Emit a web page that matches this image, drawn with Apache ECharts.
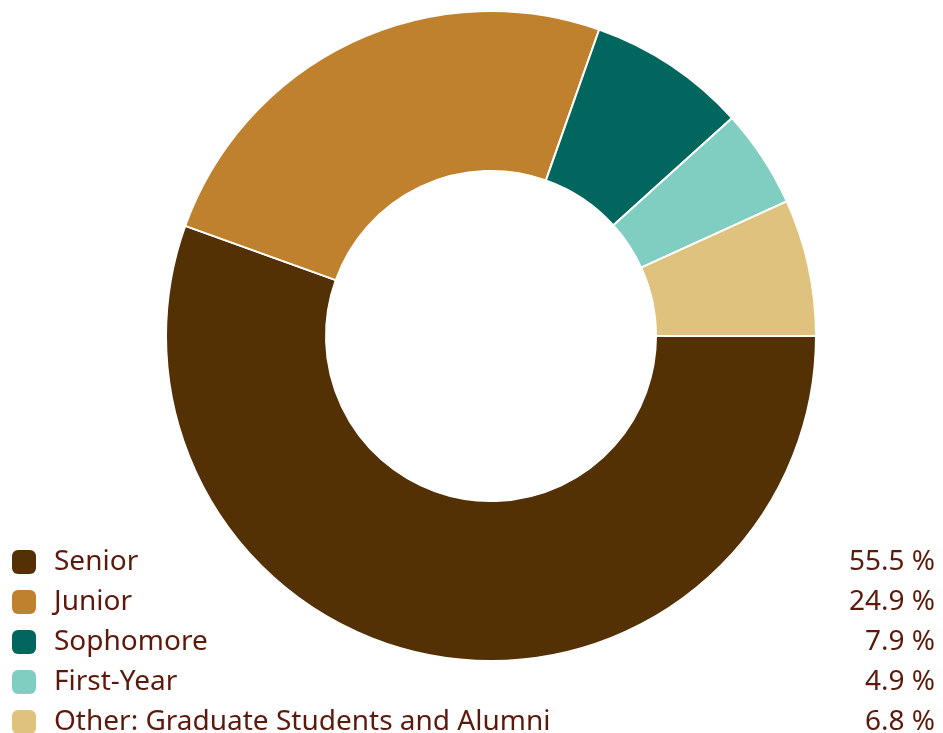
<!DOCTYPE html>
<html><head><meta charset="utf-8">
<script src="https://cdn.jsdelivr.net/npm/echarts@6/dist/echarts.min.js"></script>
<style>html,body{margin:0;padding:0;background:#fff}#c{width:943px;height:733px}</style>
</head><body><div id="c"></div>
<script>
const categories = ['Senior','Junior','Sophomore','First-Year','Other: Graduate Students and Alumni'];
const values = [55.5, 24.9, 7.9, 4.9, 6.8];
const colors = ['#543005','#BF812D','#01665E','#80CDC1','#DFC27D'];
const textColor = '#5c1a0c';
const chart = echarts.init(document.getElementById('c'));
const valueMap = {};
categories.forEach((c,i)=>valueMap[c]=values[i]);
chart.setOption({
  animation:false,
  color: colors,
  legend:{
    orient:'vertical', left:7, top:543, height:260,
    itemWidth:24, itemHeight:24, itemGap:12,
    icon:'roundRect',
    itemStyle:{borderWidth:0},
    data: categories,
    formatter: n => '{a|'+n+'}{b|'+valueMap[n].toFixed(1)+' %}',
    textStyle:{
      color:textColor, fontFamily:'Noto Sans', fontSize:28,
      rich:{
        a:{width:600, fontSize:28, color:textColor, fontFamily:'Noto Sans', padding:[0,0,0,13]},
        b:{width:281, align:'right', fontSize:28, color:textColor, fontFamily:'Noto Sans'}
      }
    },
    selectedMode:false
  },
  series:[{
    type:'pie',
    center:[491,336],
    radius:[165,325],
    startAngle:0,
    clockwise:true,
    label:{show:false},
    labelLine:{show:false},
    itemStyle:{borderColor:'#fff', borderWidth:2},
    emphasis:{disabled:true},
    data: categories.map((c,i)=>({name:c, value:values[i]}))
  }]
});
</script></body></html>
